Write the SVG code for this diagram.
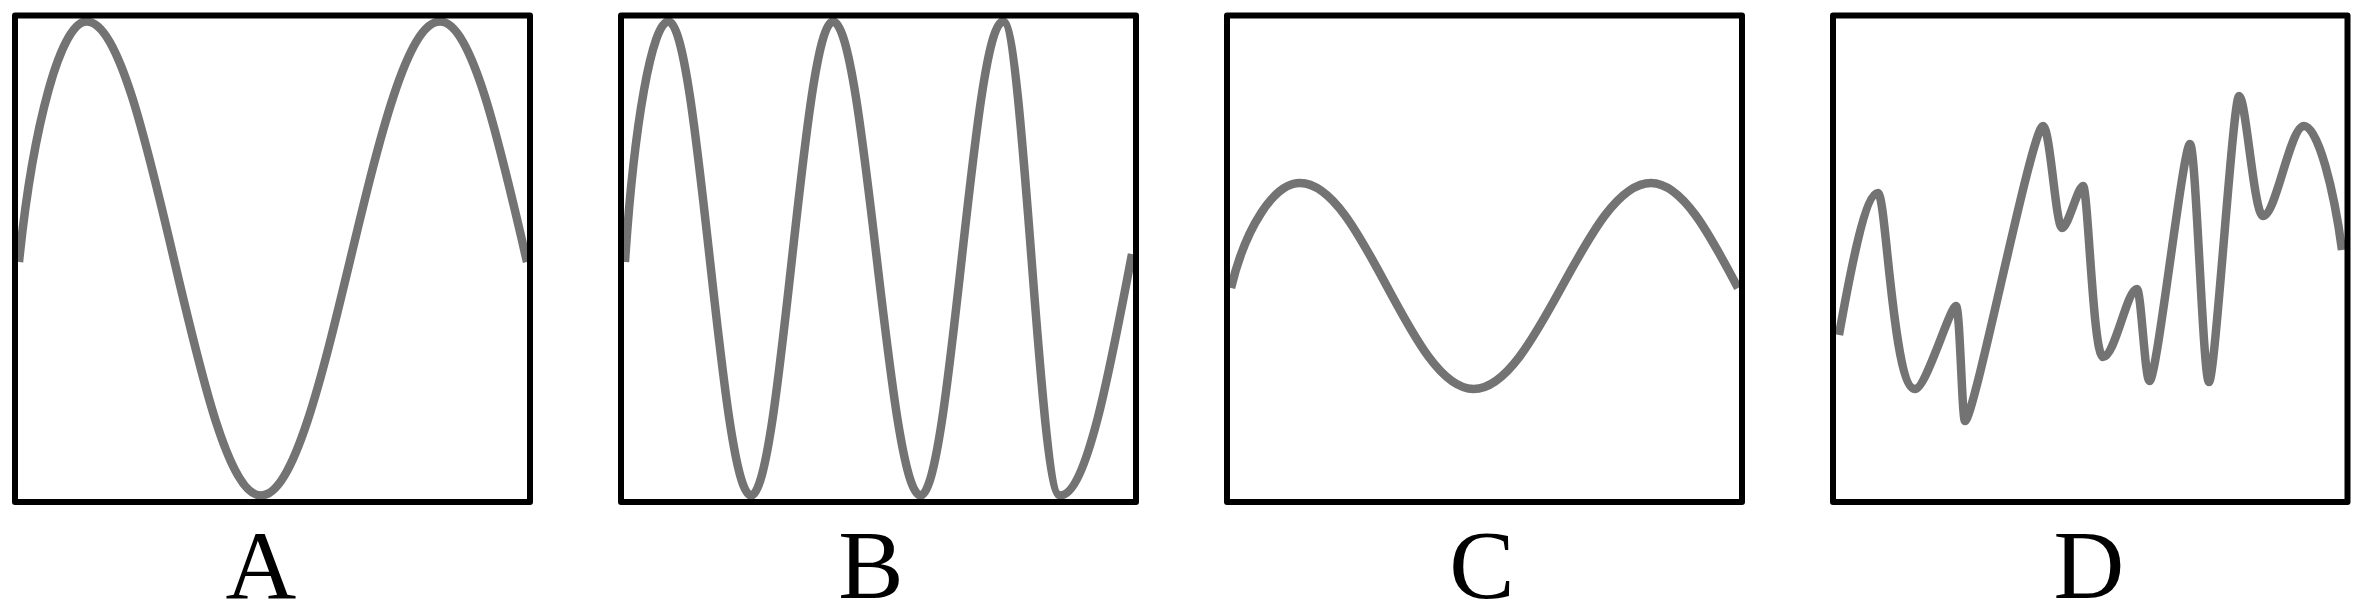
<svg xmlns="http://www.w3.org/2000/svg" width="2362" height="612" viewBox="0 0 2362 612">
<style>
.frame{fill:none;stroke:#000;stroke-width:6;stroke-linejoin:round}
.wave{fill:none;stroke:#737373;stroke-width:8.5;stroke-linecap:butt;stroke-linejoin:round}
.lbl{font-family:"Liberation Serif","Times New Roman",serif;font-size:98px;fill:#000;text-anchor:middle}
</style>
<rect x="0" y="0" width="2362" height="612" fill="#fff"/>
<g id="panelA">
<path class="wave" d="M19,262 C33,125 61,21.5 86.5,21.5 C150,21.5 197.5,495.5 261,495.5 C326.2,495.5 374.8,21.5 440,21.5 C471.7,21.5 499.3,141.75 527,262"/>
<rect class="frame" x="15" y="15.5" width="515" height="486.5"/>
<text class="lbl" x="261" y="597.5">A</text>
</g>
<g id="panelB">
<path class="wave" d="M625,262 C634,125 652,21.5 668.5,21.5 C698.5,21.5 721,495.5 751,495.5 C780.8,495.5 803.2,21.5 833,21.5 C864.9,21.5 888.6,495.5 920.5,495.5 C950.5,495.5 973,21.5 1003,21.5 C1023.7,21.5 1039.3,495.5 1060,495.5 C1086.2,495.5 1109.1,374.75 1132,254"/>
<rect class="frame" x="621" y="15.5" width="515" height="486.5"/>
<text class="lbl" x="871" y="597.5">B</text>
</g>
<g id="panelC">
<path class="wave" d="M1231,288 C1245.3,228.2 1273.8,183 1300,183 C1363.2,183 1410.3,389 1473.5,389 C1538.1,389 1586.4,183 1651,183 C1682.7,183 1710.3,235.5 1738,288"/>
<rect class="frame" x="1227" y="15.5" width="515" height="486.5"/>
<text class="lbl" x="1482" y="597.5">C</text>
</g>
<g id="panelD">
<path class="wave" d="M1839,335 C1852,262 1866,193 1878,193 C1886,193 1893,389 1915,389 C1926,389 1950,306 1956,306 C1960,306 1962,421 1965,421 C1974,421 2032,126 2043,126 C2050,126 2056,228 2062,228 C2068,228 2078,186 2083,186 C2088,186 2093,357 2103,357 C2115,357 2127,289 2137,289 C2141,289 2145,381 2149.5,381 C2157,381 2183,144 2190,144 C2196,144 2203,382 2209,382 C2215,382 2233,96 2239,96 C2246,96 2254,216 2263,216 C2276,216 2290,126 2304,126 C2318,126 2334,190 2342,250"/>
<rect class="frame" x="1833" y="15.5" width="514.5" height="486.5"/>
<text class="lbl" x="2089" y="597.5">D</text>
</g>
<g id="connectors"/>
</svg>
